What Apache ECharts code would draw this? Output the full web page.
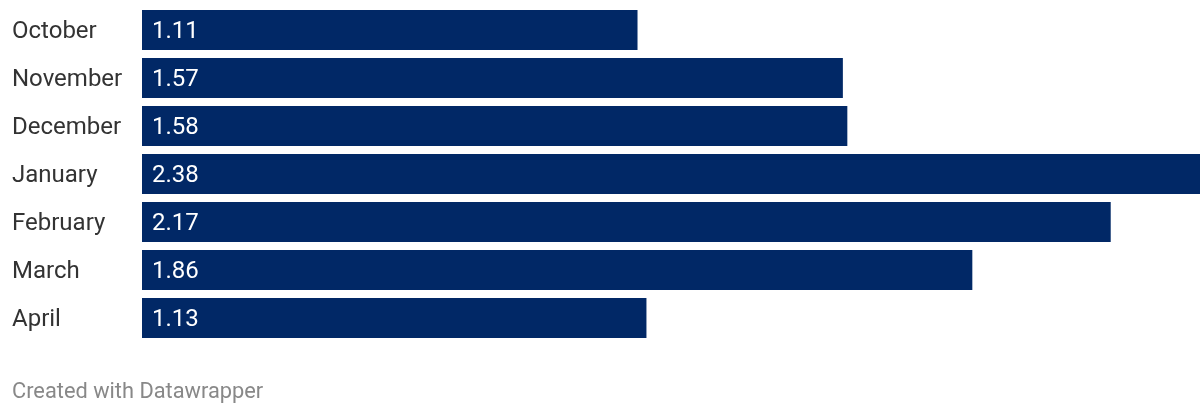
<!DOCTYPE html>
<html>
<head>
<meta charset="utf-8">
<script src="https://cdn.jsdelivr.net/npm/echarts@6/dist/echarts.min.js"></script>
<style>
  html, body { margin: 0; padding: 0; background: #fff; }
  #chart { width: 1200px; height: 414px; }
</style>
</head>
<body>
<div id="chart"></div>
<script>
// months shown top to bottom
const months = ["October", "November", "December", "January", "February", "March", "April"]
const values = [1.11, 1.57, 1.58, 2.38, 2.17, 1.86, 1.13]

const chart = echarts.init(document.getElementById("chart"))
let option = {
  animation: false,
  textStyle: { fontFamily: "Roboto" },
  grid: { left: 142, right: 0, top: 6, bottom: 72 },
  xAxis: {
    type: "value",
    min: 0,
    max: 2.37,   // January runs off the right edge in the original
    show: false
  },
  yAxis: {
    type: "category",
    data: months,
    inverse: true,
    axisLine: { show: false },
    axisTick: { show: false },
    axisLabel: {
      align: "left",
      verticalAlign: "top",
      lineHeight: 4,
      margin: 130,
      color: "#333",
      fontSize: 24,
      fontFamily: "Roboto"
    }
  },
  series: [
    {
      type: "bar",
      data: values,
      barWidth: 40,
      clip: true,
      itemStyle: { color: "#012866" },
      label: {
        show: true,
        position: "insideLeft",
        distance: 10,
        offset: [0, 2],
        color: "#fff",
        fontSize: 24,
        fontFamily: "Roboto",
        formatter: p => p.value.toFixed(2)
      }
    }
  ],
  graphic: [
    {
      type: "text",
      left: 12,
      top: 382,
      style: {
        text: "Created with Datawrapper",
        fill: "#888",
        fontSize: 21.8,
        fontFamily: "Roboto"
      }
    }
  ]
}
chart.setOption(option)
</script>
</body>
</html>
